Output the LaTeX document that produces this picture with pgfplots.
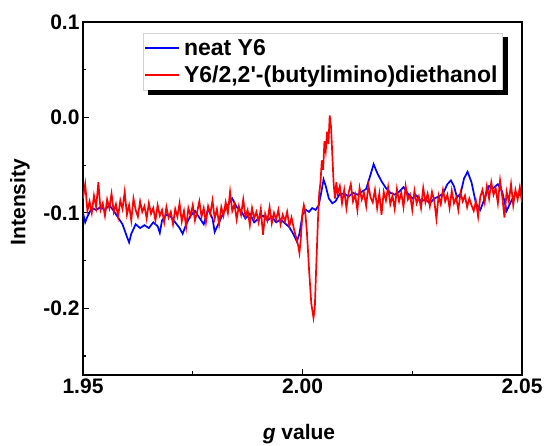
\documentclass[border=0pt]{standalone}
\usepackage{pgfplots}
\pgfplotsset{compat=1.18}
\usepackage{fontspec}
\setmainfont{Liberation Sans}

\pgfplotstableread{
x y
1.9500 -0.100
1.9505 -0.110
1.9510 -0.104
1.9520 -0.095
1.9530 -0.097
1.9540 -0.094
1.9550 -0.097
1.9560 -0.092
1.9570 -0.098
1.9580 -0.105
1.9590 -0.112
1.9600 -0.125
1.9605 -0.131
1.9610 -0.122
1.9620 -0.112
1.9630 -0.116
1.9640 -0.113
1.9650 -0.116
1.9660 -0.110
1.9670 -0.114
1.9675 -0.121
1.9680 -0.108
1.9690 -0.102
1.9700 -0.104
1.9710 -0.110
1.9720 -0.116
1.9727 -0.122
1.9735 -0.112
1.9745 -0.103
1.9755 -0.098
1.9765 -0.105
1.9775 -0.112
1.9785 -0.096
1.9795 -0.106
1.9800 -0.120
1.9810 -0.110
1.9820 -0.100
1.9830 -0.092
1.9840 -0.085
1.9850 -0.094
1.9860 -0.098
1.9870 -0.106
1.9880 -0.101
1.9890 -0.110
1.9900 -0.106
1.9910 -0.103
1.9920 -0.108
1.9930 -0.104
1.9940 -0.110
1.9950 -0.107
1.9960 -0.111
1.9970 -0.115
1.9980 -0.123
1.9987 -0.130
1.9993 -0.122
2.0000 -0.102
2.0008 -0.097
2.0015 -0.099
2.0022 -0.095
2.0030 -0.097
2.0037 -0.092
2.0043 -0.078
2.0048 -0.065
2.0053 -0.072
2.0060 -0.085
2.0068 -0.090
2.0075 -0.088
2.0085 -0.080
2.0095 -0.080
2.0105 -0.083
2.0115 -0.079
2.0125 -0.081
2.0135 -0.078
2.0145 -0.075
2.0155 -0.060
2.0162 -0.049
2.0170 -0.058
2.0180 -0.067
2.0190 -0.074
2.0200 -0.079
2.0210 -0.081
2.0220 -0.078
2.0230 -0.073
2.0240 -0.080
2.0250 -0.085
2.0260 -0.082
2.0270 -0.088
2.0280 -0.086
2.0290 -0.090
2.0300 -0.085
2.0310 -0.083
2.0320 -0.080
2.0330 -0.070
2.0338 -0.066
2.0345 -0.072
2.0352 -0.084
2.0360 -0.080
2.0368 -0.064
2.0376 -0.057
2.0385 -0.068
2.0395 -0.090
2.0405 -0.097
2.0415 -0.085
2.0425 -0.072
2.0435 -0.074
2.0445 -0.070
2.0455 -0.078
2.0465 -0.098
2.0475 -0.088
2.0485 -0.080
2.0500 -0.082
}\neattable

\pgfplotstableread{
x y
1.9500 -0.085
1.9505 -0.070
1.9510 -0.098
1.9515 -0.088
1.9520 -0.100
1.9525 -0.082
1.9530 -0.094
1.9535 -0.068
1.9540 -0.097
1.9545 -0.090
1.9550 -0.103
1.9555 -0.086
1.9560 -0.095
1.9565 -0.080
1.9570 -0.099
1.9575 -0.091
1.9580 -0.104
1.9585 -0.087
1.9590 -0.096
1.9595 -0.078
1.9600 -0.102
1.9605 -0.092
1.9610 -0.108
1.9615 -0.085
1.9620 -0.097
1.9625 -0.104
1.9630 -0.088
1.9635 -0.099
1.9640 -0.093
1.9645 -0.106
1.9650 -0.090
1.9655 -0.101
1.9660 -0.095
1.9665 -0.108
1.9670 -0.092
1.9675 -0.103
1.9680 -0.097
1.9685 -0.110
1.9690 -0.094
1.9695 -0.105
1.9700 -0.099
1.9705 -0.112
1.9710 -0.096
1.9715 -0.104
1.9720 -0.090
1.9725 -0.109
1.9730 -0.098
1.9735 -0.115
1.9740 -0.095
1.9745 -0.103
1.9750 -0.092
1.9755 -0.108
1.9760 -0.099
1.9765 -0.088
1.9770 -0.104
1.9775 -0.095
1.9780 -0.110
1.9785 -0.093
1.9790 -0.101
1.9795 -0.087
1.9800 -0.106
1.9805 -0.096
1.9810 -0.112
1.9815 -0.094
1.9820 -0.103
1.9825 -0.089
1.9830 -0.100
1.9835 -0.078
1.9840 -0.098
1.9845 -0.091
1.9850 -0.107
1.9855 -0.093
1.9860 -0.102
1.9865 -0.086
1.9870 -0.104
1.9875 -0.097
1.9880 -0.113
1.9885 -0.095
1.9890 -0.106
1.9895 -0.099
1.9900 -0.110
1.9905 -0.096
1.9910 -0.123
1.9915 -0.101
1.9920 -0.108
1.9925 -0.094
1.9930 -0.111
1.9935 -0.100
1.9940 -0.107
1.9945 -0.097
1.9950 -0.112
1.9955 -0.102
1.9960 -0.109
1.9965 -0.099
1.9970 -0.114
1.9975 -0.105
1.9980 -0.116
1.9985 -0.125
1.9990 -0.134
1.9993 -0.142
1.9996 -0.128
2.0000 -0.100
2.0003 -0.092
2.0006 -0.098
2.0010 -0.120
2.0015 -0.160
2.0020 -0.195
2.0025 -0.210
2.0028 -0.200
2.0031 -0.160
2.0035 -0.110
2.0038 -0.080
2.0041 -0.068
2.0044 -0.045
2.0047 -0.055
2.0050 -0.025
2.0053 -0.035
2.0056 -0.015
2.0059 -0.028
2.0062 0.002
2.0065 -0.010
2.0068 -0.040
2.0071 -0.070
2.0074 -0.085
2.0077 -0.068
2.0080 -0.080
2.0085 -0.072
2.0090 -0.090
2.0095 -0.076
2.0100 -0.095
2.0105 -0.079
2.0110 -0.070
2.0115 -0.088
2.0120 -0.081
2.0125 -0.097
2.0130 -0.074
2.0135 -0.086
2.0140 -0.079
2.0145 -0.093
2.0150 -0.071
2.0155 -0.084
2.0160 -0.089
2.0165 -0.076
2.0170 -0.095
2.0175 -0.080
2.0180 -0.102
2.0185 -0.078
2.0190 -0.087
2.0195 -0.073
2.0200 -0.091
2.0205 -0.082
2.0210 -0.096
2.0215 -0.075
2.0220 -0.088
2.0225 -0.079
2.0230 -0.094
2.0235 -0.072
2.0240 -0.086
2.0245 -0.081
2.0250 -0.097
2.0255 -0.077
2.0260 -0.090
2.0265 -0.083
2.0270 -0.095
2.0275 -0.074
2.0280 -0.089
2.0285 -0.080
2.0290 -0.093
2.0295 -0.078
2.0300 -0.087
2.0305 -0.106
2.0310 -0.082
2.0315 -0.091
2.0320 -0.076
2.0325 -0.088
2.0330 -0.081
2.0335 -0.095
2.0340 -0.077
2.0345 -0.090
2.0350 -0.084
2.0355 -0.097
2.0360 -0.079
2.0365 -0.088
2.0370 -0.082
2.0375 -0.094
2.0380 -0.085
2.0385 -0.092
2.0390 -0.098
2.0395 -0.088
2.0400 -0.104
2.0405 -0.083
2.0410 -0.076
2.0415 -0.089
2.0420 -0.072
2.0425 -0.085
2.0430 -0.068
2.0435 -0.081
2.0440 -0.074
2.0445 -0.090
2.0450 -0.066
2.0455 -0.083
2.0460 -0.105
2.0465 -0.078
2.0470 -0.088
2.0475 -0.070
2.0480 -0.092
2.0485 -0.076
2.0490 -0.086
2.0495 -0.073
2.0500 -0.089
}\mixtable

\begin{document}
\begin{tikzpicture}
\begin{axis}[
  scale only axis,
  width=439pt, height=353pt,
  xmin=1.95, xmax=2.05, ymin=-0.27, ymax=0.1,
  axis line style={line width=1.5pt},
  tick style={line width=1.2pt, black},
  tick align=inside, tick pos=left,
  major tick length=6pt, minor tick length=3.5pt,
  xtick={1.95,2.00,2.05}, minor xtick={1.975,2.025},
  ytick={-0.2,-0.1,0,0.1}, minor ytick={-0.25,-0.15,-0.05,0.05},
  scaled ticks=false,
  xticklabel style={/pgf/number format/.cd, fixed, fixed zerofill, precision=2, assume math mode=true},
  yticklabel style={/pgf/number format/.cd, fixed, fixed zerofill, precision=1, assume math mode=true},
  ticklabel style={font=\fontsize{21}{25}\selectfont\bfseries},
  xlabel={\textit{g} value},
  ylabel={Intensity},
  label style={font=\fontsize{21}{25}\selectfont\bfseries},
  xlabel style={at={(axis description cs:0.492,-0.184)}, anchor=base},
  ylabel style={at={(axis description cs:-0.1435,0.49)}, anchor=center},
  legend style={name=leg, at={(axis description cs:0.1367,0.969)}, anchor=north west,
    draw=gray!35, line width=0.4pt, fill=white,
    font=\fontsize{23}{27}\selectfont\bfseries,
    inner xsep=1pt, inner ysep=4pt, row sep=5pt,
    nodes={inner xsep=4pt}},
  legend cell align=left,
  legend image code/.code={\draw[#1, line width=1.8pt] (0pt,0pt) -- (34pt,0pt);},
]
\addplot[blue, line width=1.7pt] table[x=x, y=y] {\neattable};
\addlegendentry{neat Y6}
\addplot[red, line width=1.7pt] table[x=x, y=y] {\mixtable};
\addlegendentry{Y6/2,2\textquotesingle-(butylimino)diethanol}
\end{axis}
\draw[black, line width=5pt]
  ([xshift=2.5pt,yshift=-4pt]leg.north east) -- ([xshift=2.5pt,yshift=-2.5pt]leg.south east)
  -- ([xshift=5pt,yshift=-2.5pt]leg.south west);
\pgfresetboundingbox
\path (current axis.south west) ++(-83pt,-71pt) rectangle ++(548pt,446pt);
\end{tikzpicture}
\end{document}
